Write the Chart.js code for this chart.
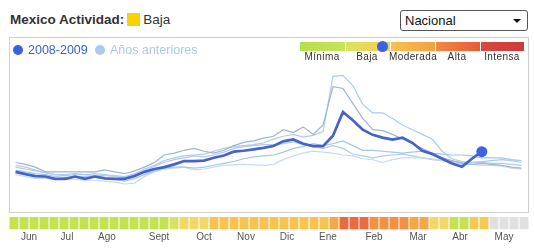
<!DOCTYPE html>
<html><head><meta charset="utf-8">
<script src="https://cdn.jsdelivr.net/npm/chart.js@4/dist/chart.umd.min.js"></script>
<style>
html,body{margin:0;padding:0;background:#fff;width:534px;height:251px;overflow:hidden;font-family:"Liberation Sans",Arial,sans-serif;}
.abs{position:absolute;}
#title{left:10px;top:12px;font-size:13.5px;color:#333;white-space:nowrap;line-height:16px;}
#title b{font-weight:bold;}
#title .sq{display:inline-block;width:13px;height:13px;background:#f7d400;vertical-align:-2px;margin:0 3px 0 3px;}
#sel{left:400px;top:10px;border:1px solid #555;border-radius:3px;box-sizing:border-box;width:128px;height:21px;font-size:13px;color:#111;line-height:19px;padding-left:4px;}
#sel .arr{position:absolute;right:6px;top:8px;width:0;height:0;border-left:4px solid transparent;border-right:4px solid transparent;border-top:4px solid #111;}
#box{left:9px;top:37px;width:518px;height:174px;border:1px solid #cfcfcf;}
.leg{font-size:12.5px;white-space:nowrap;line-height:14px;}
.dot{border-radius:50%;}
.seg{top:42px;height:9px;}
.slab{top:51px;font-size:10px;color:#333;letter-spacing:0.4px;line-height:12px;text-align:center;width:46px;}
</style></head>
<body>
<div id="title" class="abs"><b>Mexico Actividad:</b><span class="sq"></span>Baja</div>
<div id="sel" class="abs">Nacional<span class="arr"></span></div>
<div id="box" class="abs"></div>
<canvas id="lineC" class="abs" style="left:10px;top:38px;" width="517" height="174"></canvas>
<div class="abs dot" style="left:13px;top:45px;width:10px;height:10px;background:#3a62e0;"></div>
<div class="abs leg" style="left:28px;top:43px;color:#3a5fcd;">2008-2009</div>
<div class="abs dot" style="left:95px;top:45px;width:10px;height:10px;background:#aacbef;"></div>
<div class="abs leg" style="left:110px;top:43px;color:#a9c9ee;">Años anteriores</div>
<div class="abs seg" style="left:300px;width:45px;background:linear-gradient(to right,#b4df4c,#c8e35a);"></div>
<div class="abs seg" style="left:346px;width:44px;background:linear-gradient(to right,#dbe35e,#f7cd52);"></div>
<div class="abs seg" style="left:391px;width:44px;background:linear-gradient(to right,#f8c24e,#f2a044);"></div>
<div class="abs seg" style="left:436px;width:44px;background:linear-gradient(to right,#f08a42,#e65a36);"></div>
<div class="abs seg" style="left:481px;width:43px;background:linear-gradient(to right,#d84a40,#cc3a3a);"></div>
<div class="abs dot" style="left:377px;top:41px;width:11px;height:11px;background:#3a62e6;"></div>
<div class="abs slab" style="left:299px;">Mínima</div>
<div class="abs slab" style="left:344px;">Baja</div>
<div class="abs slab" style="left:389px;">Moderada</div>
<div class="abs slab" style="left:434px;">Alta</div>
<div class="abs slab" style="left:479px;">Intensa</div>
<canvas id="stripC" class="abs" style="left:9px;top:214px;" width="520" height="28"></canvas>
<script>
// ---- data (weekly index, June 2008 -> May 2009) ----
const weeks = Array.from({length:52},(_,i)=>i);
const series2008 = [37,34.5,32.5,32,29.5,29.5,32,29.5,32,30,29.5,29.5,32.5,37,40,42,45,48.5,48.5,49,52,54.5,58.5,59.5,61,62.5,64.5,69.5,71.5,67,64.5,64.5,75.5,101,92,82,76.5,73.5,71.5,73.5,68,59.5,56,51,46,42.5,51,58.5];
const prevA = [47,45,42,37,37,37,37,37,37,39,37,35,38,42,47,55,57,60,62,59,57,60,65,68.5,70,73,75,82,79,85,77,87,128,126,110,94,82,81,77,72,67,62,57,52,49,46,45,46,45,44,42,41];
const prevB = [42,40,38,36,34,34,35,34,35,34,33,32,35,40,44,49,52,54,55,56,59,62,64,65,66,68,72,75,77,74,76,80,139,140,129,109,100,100,94,87,82,77,72,59,51,48,47,48,49,50,49,47];
const prevC = [39,37,35,34,32,31,31,32,31,30,29,27,30,34,38,41,42,42,41,42,44,46,48,51,53,54,55,58,62,64,67,65,67,70,65,60,60,59,58,57,58,59,57,56,55,55,54,52,52,52,50,49];
const prevD = [34,32,30,30,29,29,29,28,28,27,26,24,25,32,37,40,41,42,39,40,42,44,44.5,45,44.5,44,45,50,54,57,59,58,57,55,54,51,50,47,50,52,52,52,51,49,47,45,45,44,44,43,41,40];
const prevE = [44,42,39,36,34,33,34,34,33,33,32,31,34,38,43,47,50,52,54,53,55,58,62,64,65,66,66,67,69,66,64,62,65,62,56,54,52,54,55,56,54,52,50,49,48,47,47,47,46,46,45,44];
// weekly activity level shown in the strip (0 minima .. 4.5 intensa), null = no data yet
const stripLevel = [0.4,0.4,0.4,0.4,0.4,0.4,0.4,0.4,0.4,0.4,0.4,0.4,0.4,0.4,0.4,0.4,1.0,1.5,1.5,1.5,2,2,2,2,2,2,2,2,2,2,2,2,2.6,3.6,3.6,3.6,3,3,3,3,2.7,2.7,1.5,1.5,0.4,0.4,1.9,1.9,null,null,null,null];
const monthLabels = ['Jun','Jul','Ago','Sept','Oct','Nov','Dic','Ene','Feb','Mar','Abr','May'];
const monthTickWeeks = [1.5,5.3,9.3,14.5,19,23.2,27.3,31.4,36,40.4,44.6,49];

// ---- styles ----
const levelStops = [[0,'#b6e04a'],[1,'#d8e25a'],[1.5,'#f2d866'],[2,'#f7c450'],[2.7,'#f5a645'],[3,'#f39042'],[3.6,'#ec6a3c'],[4.5,'#d2413f']];
function hex2rgb(h){return [1,3,5].map(k=>parseInt(h.substr(k,2),16));}
function levelColor(v){
  if(v===null) return '#e0e0e0';
  for(let k=0;k<levelStops.length-1;k++){
    const [a,ca]=levelStops[k],[b,cb]=levelStops[k+1];
    if(v<=b){const t=Math.max(0,(v-a)/(b-a));const A=hex2rgb(ca),B=hex2rgb(cb);
      return 'rgb('+A.map((x,j)=>Math.round(x+(B[j]-x)*t)).join(',')+')';}
  }
  return levelStops[levelStops.length-1][1];
}
const FONT = 'Liberation Sans';
const last = series2008.length-1;
function prev(data,color){return {data,borderColor:color,borderWidth:1.2,pointRadius:0,fill:false,tension:0};}

new Chart(document.getElementById('lineC'),{
  type:'line',
  data:{labels:weeks,datasets:[
    {data:series2008,borderColor:'#4563c8',borderWidth:2.7,tension:0,fill:false,
     pointRadius:c=>c.dataIndex===last?5.5:0,pointBackgroundColor:'#3b63e8',pointBorderWidth:0},
    prev(prevA,'#9fb4d2'),
    prev(prevB,'#acccee'),
    prev(prevC,'#a2c6ec'),
    prev(prevD,'#c6dbf1'),
    prev(prevE,'#b6cae2')
  ]},
  options:{animation:false,responsive:false,maintainAspectRatio:false,
    layout:{padding:0},
    plugins:{legend:{display:false},tooltip:{enabled:false}},
    scales:{x:{display:false,offset:false},y:{display:false,min:0,max:174}}}
});

new Chart(document.getElementById('stripC'),{
  type:'bar',
  data:{datasets:[{data:weeks.map(i=>({x:i,y:1})),backgroundColor:stripLevel.map(levelColor),
    barPercentage:0.9,categoryPercentage:1,borderWidth:0}]},
  options:{animation:false,responsive:false,maintainAspectRatio:false,
    layout:{padding:{top:3,left:0,right:0,bottom:0}},
    plugins:{legend:{display:false},tooltip:{enabled:false}},
    scales:{
      x:{type:'linear',min:-0.5,max:51.5,offset:false,
        grid:{display:false,drawTicks:false},border:{display:false},
        afterBuildTicks:s=>{s.ticks=monthTickWeeks.map(v=>({value:v}));},
        ticks:{autoSkip:false,maxRotation:0,padding:2,color:'#555',font:{size:10,family:FONT},
          callback:(v,i)=>monthLabels[i]}},
      y:{display:false,min:0,max:1}
    }}
});
</script>
</body></html>
